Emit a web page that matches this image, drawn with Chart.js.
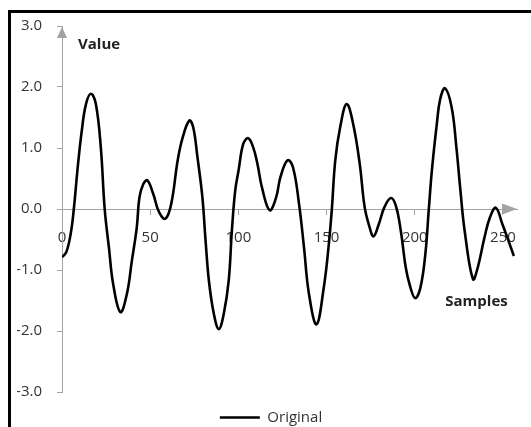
<!DOCTYPE html>
<html>
<head>
<meta charset="utf-8">
<script src="https://cdn.jsdelivr.net/npm/chart.js@4/dist/chart.umd.min.js"></script>
<style>
  html, body { margin: 0; padding: 0; background: #fff; overflow: hidden; }
  #wrap { position: relative; width: 531px; height: 427px; }
  #frame { position: absolute; left: 8px; top: 10px; right: -10px; bottom: -10px;
           border-left: 3px solid #000; border-top: 3px solid #000; }
</style>
</head>
<body>
<div id="wrap">
  <div id="frame"></div>
  <canvas id="signalChart"></canvas>
</div>
<script>
// Signal chart - sample index vs value
const seriesName = "Original"
const xTitle = "Samples"
const yTitle = "Value"

const sampleIdx = [
  0, 2.4, 4.9, 6.7, 8.9, 11.2, 13.6, 16.4, 19.2, 22, 24.2, 26.6, 29, 33.1, 36.8,
  39.6, 42.4, 43.9, 46.1, 48.4, 51.7, 55, 58.6, 61.9, 65.6, 68.4, 72.2, 74.4,
  76.8, 79.6, 81.4, 83.3, 86.1, 88.9, 91.7, 94.5, 96.3, 98.2, 100.1, 102.8,
  105.6, 108.4, 110.8, 113.4, 117.7, 121.4, 123.8, 127.9, 131, 134.4, 137.2,
  140, 144.3, 148.4, 151.1, 153, 154.9, 157.7, 161.4, 165.1, 168.8, 171.6,
  174.4, 176.6, 179.6, 182.8, 186.5, 189.3, 192.1, 194.9, 197.2, 200.2, 203.2,
  206, 207.9, 209.7, 212.5, 214.4, 217.2, 220.9, 223.6, 225.9, 228.3, 233,
  235.7, 239.5, 242.6, 246, 249.7, 252.5, 256.2,
]
const values = [
  -0.79, -0.71, -0.41, 0.0, 0.68, 1.28, 1.72, 1.89, 1.72, 1.01, 0.0, -0.63, -1.23, -1.69, -1.39,
  -0.85, -0.30, 0.19, 0.41, 0.47, 0.25, -0.05, -0.16, 0.08, 0.80, 1.17, 1.45, 1.34,
  0.85, 0.19, -0.52, -1.18, -1.72, -1.97, -1.72, -1.18, -0.36, 0.30, 0.63, 1.07,
  1.16, 1.01, 0.74, 0.35, -0.02, 0.19, 0.52, 0.80, 0.68, 0.08, -0.63,
  -1.39, -1.89, -1.29, -0.63, 0.0, 0.79, 1.34, 1.72, 1.39, 0.74, 0.03,
  -0.30, -0.45, -0.25, 0.03, 0.18, 0.05, -0.36, -0.96, -1.25, -1.46, -1.29,
  -0.74, -0.03, 0.63, 1.39, 1.80, 1.98, 1.67, 1.01, 0.30, -0.36, -1.15,
  -0.96, -0.47, -0.14, 0.02, -0.25, -0.47, -0.77,
]

const AXIS_COLOR = "#a3a3a3"
const TEXT_COLOR = "#333"
const FONT = "'Open Sans', sans-serif"

Chart.defaults.font.family = FONT
Chart.defaults.font.size = 15
Chart.defaults.color = TEXT_COLOR

// arrow heads on both axes + the axis captions
const axisDecor = {
  id: "axisDecor",
  afterDraw(chart) {
    const { ctx, chartArea: a, scales } = chart
    const x = scales.x, y = scales.y
    const y0 = y.getPixelForValue(0)
    ctx.save()
    ctx.fillStyle = AXIS_COLOR
    ctx.beginPath()
    ctx.moveTo(a.right, y0)
    ctx.lineTo(a.right - 15, y0 - 5.5)
    ctx.lineTo(a.right - 15, y0 + 5.5)
    ctx.closePath()
    ctx.fill()
    ctx.beginPath()
    ctx.moveTo(a.left, a.top + 1)
    ctx.lineTo(a.left - 5, a.top + 12)
    ctx.lineTo(a.left + 5, a.top + 12)
    ctx.closePath()
    ctx.fill()

    ctx.fillStyle = "#222"
    ctx.font = "bold 15px " + FONT
    ctx.textBaseline = "middle"
    ctx.textAlign = "left"
    ctx.fillText(yTitle, a.left + 16, y.getPixelForValue(2.7))
    ctx.textAlign = "center"
    ctx.fillText(xTitle, x.getPixelForValue(235), y.getPixelForValue(-1.52))
    ctx.restore()
  },
}

const points = sampleIdx.map((s, i) => ({ x: s, y: values[i] }))

new Chart(document.getElementById("signalChart"), {
  type: "scatter",
  data: {
    datasets: [
      {
        label: seriesName,
        data: points,
        showLine: true,
        borderColor: "#000",
        backgroundColor: "#000",
        borderWidth: 2.6,
        pointRadius: 0,
        tension: 0.4,
      },
    ],
  },
  options: {
    responsive: true,
    maintainAspectRatio: false,
    animation: false,
    layout: { padding: { left: 17, top: 26, right: 6, bottom: -8 } },
    plugins: {
      tooltip: { enabled: false },
      legend: {
        position: "bottom",
        labels: {
          usePointStyle: true,
          pointStyle: "line",
          pointStyleWidth: 40,
          padding: 18,
          color: TEXT_COLOR,
          font: { size: 15 },
        },
      },
    },
    scales: {
      x: {
        type: "linear",
        position: { y: 0 },
        min: 0,
        max: 258,
        border: { display: true, color: AXIS_COLOR, width: 1 },
        grid: { drawOnChartArea: false, drawTicks: true, tickLength: 5, color: AXIS_COLOR },
        ticks: { stepSize: 50, includeBounds: false, padding: 15, maxRotation: 0, color: TEXT_COLOR },
      },
      y: {
        min: -3,
        max: 3,
        afterFit(scale) { scale.width = 45 },
        border: { display: true, color: AXIS_COLOR, width: 1 },
        grid: { drawOnChartArea: false, drawTicks: true, tickLength: 5, color: AXIS_COLOR },
        ticks: {
          stepSize: 1,
          padding: 15,
          color: TEXT_COLOR,
          callback: (v) => v.toFixed(1),
        },
      },
    },
  },
  plugins: [axisDecor],
})
</script>
</body>
</html>
